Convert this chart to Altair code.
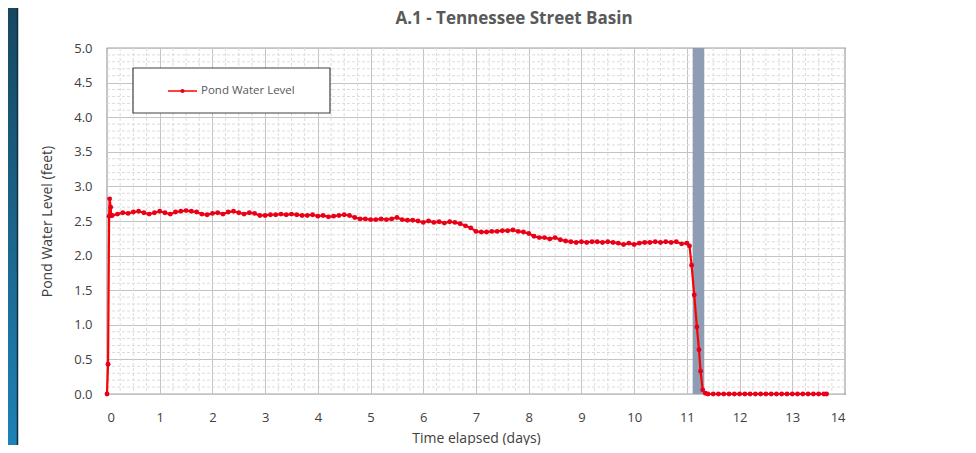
import altair as alt
import pandas as pd

# ---- data ----
start_days = [0.0, 0.02, 0.04, 0.05, 0.07, 0.08]
start_level = [0.0, 0.43, 2.57, 2.82, 2.70, 2.58]

plateau_days = [round(0.1 * i, 2) for i in range(1, 111)]  # 0.1 .. 11.0
plateau_level = [
    2.58, 2.60, 2.62, 2.61, 2.63, 2.64, 2.62, 2.60, 2.62, 2.64,
    2.62, 2.60, 2.63, 2.64, 2.65, 2.64, 2.63, 2.60, 2.59, 2.61,
    2.62, 2.60, 2.63, 2.64, 2.62, 2.60, 2.62, 2.61, 2.58, 2.58,
    2.59, 2.59, 2.60, 2.59, 2.60, 2.59, 2.58, 2.58, 2.59, 2.57,
    2.58, 2.56, 2.57, 2.58, 2.59, 2.58, 2.55, 2.53, 2.53, 2.52,
    2.52, 2.53, 2.52, 2.53, 2.55, 2.52, 2.51, 2.51, 2.50, 2.48,
    2.50, 2.48, 2.49, 2.47, 2.49, 2.48, 2.46, 2.43, 2.40, 2.35,
    2.34, 2.34, 2.35, 2.35, 2.36, 2.36, 2.37, 2.35, 2.34, 2.32,
    2.28, 2.26, 2.26, 2.24, 2.26, 2.23, 2.21, 2.20, 2.19, 2.20,
    2.19, 2.20, 2.20, 2.19, 2.20, 2.19, 2.18, 2.16, 2.18, 2.16,
    2.18, 2.19, 2.19, 2.20, 2.19, 2.20, 2.19, 2.20, 2.17, 2.18,
]

drop_days = [11.05, 11.09, 11.14, 11.19, 11.23, 11.26, 11.30, 11.35]
drop_level = [2.14, 1.86, 1.43, 0.97, 0.64, 0.33, 0.06, 0.01]

empty_days = [11.4, 11.5, 11.6, 11.7, 11.8, 11.9, 12.0, 12.1, 12.2, 12.3,
              12.4, 12.5, 12.6, 12.7, 12.8, 12.9, 13.0, 13.1, 13.2, 13.3,
              13.4, 13.5, 13.6, 13.65]
empty_level = [0.0] * len(empty_days)

band_start, band_end = [11.11], [11.33]

chart_title = ["A.1 - Tennessee Street Basin"]
legend_label = ["Pond Water Level"]

x_ticks = list(range(0, 15))
y_ticks = [0.0, 0.5, 1.0, 1.5, 2.0, 2.5, 3.0, 3.5, 4.0, 4.5, 5.0]
x_minor = [i + f for i in range(0, 14) for f in (0.25, 0.5, 0.75)]
y_minor = [round(i * 0.1, 1) for i in range(51) if i % 5 != 0]

series = pd.DataFrame({
    "day": start_days + plateau_days + drop_days + empty_days,
    "level": start_level + plateau_level + drop_level + empty_level,
})
band = pd.DataFrame({"start": band_start, "end": band_end})

W, H = 738, 346
FONT = "Open Sans"
TXT = "#404040"

xscale = alt.Scale(domain=[0, 14], nice=False, zero=False)
yscale = alt.Scale(domain=[0, 5], nice=False)

main_x = alt.Axis(values=x_ticks, format="d", grid=True, gridColor="#c4c4c4",
                  ticks=False, domain=False, labelPadding=17, labelFontSize=13,
                  labelColor=TXT, labelFont=FONT, title="Time elapsed (days)",
                  titleFont=FONT, titleFontSize=14, titleFontWeight="normal",
                  titleColor=TXT, titlePadding=7)
main_y = alt.Axis(values=y_ticks, format=".1f", grid=True, gridColor="#c4c4c4",
                  ticks=False, domain=False, labelPadding=15, labelFontSize=13,
                  labelColor=TXT, labelFont=FONT, title="Pond Water Level (feet)",
                  titleFont=FONT, titleFontSize=14, titleFontWeight="normal",
                  titleColor=TXT, titlePadding=19)

X = alt.X("day:Q", scale=xscale, axis=main_x)
Y = alt.Y("level:Q", scale=yscale, axis=main_y)

minor_x = alt.Chart(pd.DataFrame({"v": x_minor})).mark_rule(
    color="#dcdcdc", strokeWidth=1, strokeDash=[3, 2]
).encode(x=alt.X("v:Q", scale=xscale, axis=main_x))
minor_y = alt.Chart(pd.DataFrame({"v": y_minor})).mark_rule(
    color="#dcdcdc", strokeWidth=1, strokeDash=[3, 2]
).encode(y=alt.Y("v:Q", scale=yscale, axis=main_y))

band_layer = alt.Chart(band).mark_rect(color="#8e9cb4").encode(
    x=alt.X("start:Q", scale=xscale, axis=main_x),
    x2="end:Q",
)

base = alt.Chart(series)
line_layer = base.mark_line(color="#ff0000", strokeWidth=2.2).encode(x=X, y=Y)
point_layer = base.mark_circle(color="#e8001a", size=24, opacity=1).encode(x=X, y=Y)

one = pd.DataFrame({"a": [0]})
legend_box = alt.Chart(one).mark_rect(
    fill="white", stroke="#404040", strokeWidth=1.2
).encode(x=alt.value(26), x2=alt.value(223), y=alt.value(20), y2=alt.value(65))
legend_line = alt.Chart(one).mark_rule(
    color="#ff0000", strokeWidth=1.5
).encode(x=alt.value(61), x2=alt.value(90), y=alt.value(43))
legend_pt = alt.Chart(one).mark_circle(
    color="#e8001a", size=18, opacity=1
).encode(x=alt.value(75.5), y=alt.value(43))
legend_txt = alt.Chart(pd.DataFrame({"t": legend_label})).mark_text(
    align="left", baseline="middle", font=FONT, fontSize=11.5, color="#595959"
).encode(x=alt.value(94), y=alt.value(43), text="t:N")

title_txt = alt.Chart(pd.DataFrame({"t": chart_title})).mark_text(
    align="center", baseline="middle", font=FONT, fontSize=17,
    fontWeight="bold", color="#595959", clip=False
).encode(x=alt.value(407), y=alt.value(-29), text="t:N")

strip = alt.Chart(one).mark_rect(
    color=alt.LinearGradient(
        gradient="linear", x1=0, y1=0, x2=0, y2=1,
        stops=[alt.GradientStop(color="#17465f", offset=0),
               alt.GradientStop(color="#1e83b6", offset=1)]),
    clip=False,
).encode(x=alt.value(-99), x2=alt.value(-90), y=alt.value(-48), y2=alt.value(405))
strip_edge = alt.Chart(one).mark_rule(
    color="#0e2f40", strokeWidth=1.5, clip=False
).encode(x=alt.value(-89.5), y=alt.value(-48), y2=alt.value(405))

chart = alt.layer(
    minor_x, minor_y, band_layer, line_layer, point_layer,
    legend_box, legend_line, legend_pt, legend_txt, title_txt,
    strip, strip_edge,
).properties(
    width=W, height=H,
    padding={"left": 99, "top": 40, "right": 118, "bottom": 51},
    autosize="none",
    background="white",
).configure_view(stroke="#404040", strokeWidth=1.2)

chart.save("out.html", embed_options={"renderer": "svg", "actions": False})
